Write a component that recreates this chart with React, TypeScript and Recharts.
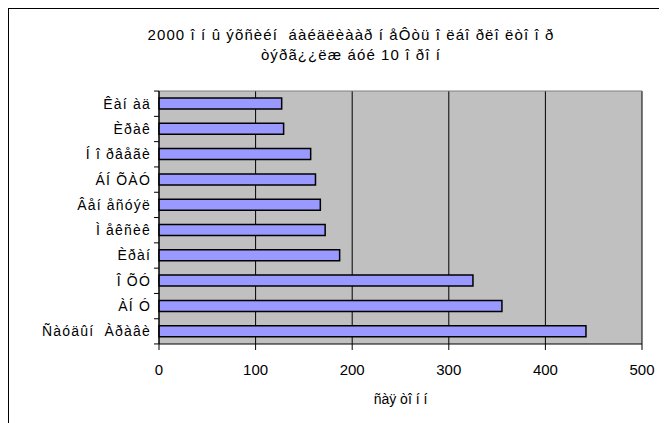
import React from 'react';
import { BarChart, Bar, XAxis, YAxis, CartesianGrid } from 'recharts';

// countries top to bottom, values in million tons
const countries = [
  'Êàí àä',
  'Èðàê',
  'Í î ðâåãè',
  'ÁÍ ÕÀÓ',
  'Âåí åñóýë',
  'Ì åêñèê',
  'Èðàí',
  'Î ÕÓ',
  'ÀÍ Ó',
  'Ñàóäûí  Àðàâè',
];
const output = [127, 129, 157, 162, 167, 172, 187, 325, 355, 442];
const xTicks = [0, 100, 200, 300, 400, 500];

const titleLines = [
  '2000 î í û ýõñèéí  áàéäëèààð í åÔòü î ëáî ðëî ëòî î ð',
  'òýðã¿¿ëæ áóé 10 î ðî í',
];
const xLabel = 'ñàÿ òî í í';

const data = countries.map((name, i) => ({ name, value: output[i] }));

const FONT = '"Liberation Sans", Arial, sans-serif';
const PLOT_H = 252;
const BAND = PLOT_H / countries.length;

const CountryTick = (props: any) => {
  const { x, y, payload, index } = props;
  const axisX = x + 8;
  return (
    <g>
      <text
        x={x}
        y={y}
        dy={5}
        textAnchor="end"
        fontSize={14}
        letterSpacing={1.2}
        fontFamily={FONT}
        fill="#000"
        style={{ whiteSpace: 'pre' }}
      >
        {payload.value}
      </text>
      <line x1={axisX - 5} x2={axisX} y1={y - BAND / 2} y2={y - BAND / 2} stroke="#000" />
      {index === countries.length - 1 && (
        <line x1={axisX - 5} x2={axisX} y1={y + BAND / 2} y2={y + BAND / 2} stroke="#000" />
      )}
    </g>
  );
};

export default function App() {
  return (
    <div
      style={{
        position: 'relative',
        width: 658,
        height: 415,
        borderTop: '1px solid #000',
        borderLeft: '1px solid #000',
        fontFamily: FONT,
      }}
    >
      <div
        style={{
          position: 'absolute',
          left: 92,
          width: 500,
          top: 16,
          textAlign: 'center',
          fontSize: 15,
          letterSpacing: 1.1,
          lineHeight: '20px',
          color: '#000',
        }}
      >
        {titleLines.map((t) => (
          <div key={t} style={{ whiteSpace: 'pre' }}>{t}</div>
        ))}
      </div>
      <BarChart
        width={658}
        height={414}
        data={data}
        layout="vertical"
        barCategoryGap={0}
        margin={{ top: 82, right: 25, left: 0, bottom: 13 }}
      >
        <CartesianGrid horizontal={false} stroke="#000" fill="#C0C0C0" fillOpacity={1} />
        <CartesianGrid
          vertical={false}
          stroke="#808080"
          horizontalCoordinatesGenerator={({ offset }: any) => [offset.top]}
        />
        <XAxis
          type="number"
          domain={[0, 500]}
          ticks={xTicks}
          height={66}
          tickSize={6}
          tickMargin={14}
          axisLine={{ stroke: '#000' }}
          tickLine={{ stroke: '#000' }}
          tick={{ fontSize: 15, fill: '#000', fontFamily: FONT }}
          label={{
            value: xLabel,
            position: 'insideBottom',
            offset: 6,
            fontSize: 14,
            fill: '#000',
            fontFamily: FONT,
          }}
        />
        <YAxis
          type="category"
          dataKey="name"
          width={150}
          interval={0}
          tickLine={false}
          axisLine={{ stroke: '#000' }}
          tick={<CountryTick />}
        />
        <Bar
          dataKey="value"
          barSize={11}
          fill="#9999FF"
          stroke="#000"
          strokeWidth={1.5}
          isAnimationActive={false}
        />
      </BarChart>
    </div>
  );
}
